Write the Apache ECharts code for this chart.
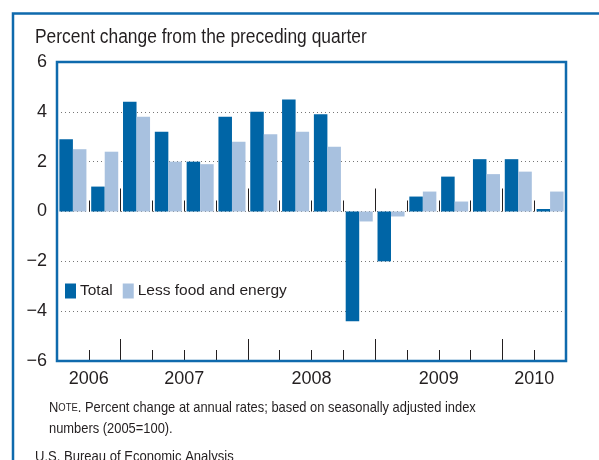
<!DOCTYPE html>
<html>
<head>
<meta charset="utf-8">
<script src="https://cdn.jsdelivr.net/npm/echarts@6/dist/echarts.min.js"></script>
<style>
  html, body { margin: 0; padding: 0; background: #fff; }
  #chart { width: 599px; height: 460px; }
</style>
</head>
<body>
<div id="chart"></div>
<script>
// quarters, 2006 Q3 .. 2010 Q2
var quarters = ['2006Q3', '2006Q4',
	'2007Q1', '2007Q2', '2007Q3', '2007Q4',
	'2008Q1', '2008Q2', '2008Q3', '2008Q4',
	'2009Q1', '2009Q2', '2009Q3', '2009Q4',
	'2010Q1', '2010Q2'];
var total = [2.9, 1.0, 4.4, 3.2, 2.0, 3.8, 4.0, 4.5, 3.9, -4.4, -2.0, 0.6, 1.4, 2.1, 2.1, 0.1];
var lessFoodEnergy = [2.5, 2.4, 3.8, 2.0, 1.9, 2.8, 3.1, 3.2, 2.6, -0.4, -0.2, 0.8, 0.4, 1.5, 1.6, 0.8];

// year labels sit in the middle of their quarters (in quarter units)
var yearLabels = ['2006', '2007', '2008', '2009', '2010'];
var yearCenters = [1, 4, 8, 12, 15];
var yearBounds = [2, 6, 10, 14];
var quarterBounds = [1, 3, 4, 5, 7, 8, 9, 11, 12, 13, 15];

var yTicks = [-6, -4, -2, 0, 2, 4, 6];

var sans = '"Liberation Sans", Arial, sans-serif';
var frameBlue = '#0f6aad';
var darkBlue = '#0065a6';
var lightBlue = '#a8c1df';
var ink = '#231f20';

var chart = echarts.init(document.getElementById('chart'));

// decoration axes, only used for their tick marks
function tickAxis(values, len, onZero){
	return {
		type: 'value',
		min: 0,
		max: quarters.length,
		position: 'bottom',
		axisLine: {show: onZero, onZero: onZero, onZeroAxisIndex: 0, lineStyle: {color: 'rgba(0,0,0,0)'}},
		axisTick: {
			show: true,
			inside: true,
			length: len,
			customValues: values,
			lineStyle: {color: ink, width: 1}
		},
		axisLabel: {show: false},
		splitLine: {show: false}
	};
}

var yearAxis = tickAxis(quarterBounds, 11, false);
yearAxis.axisLabel = {
	show: true,
	customValues: yearCenters,
	formatter: function(v){
		var i = yearCenters.indexOf(v);
		return i >= 0 ? yearLabels[i] : '';
	},
	fontFamily: sans,
	fontSize: 18,
	color: ink,
	margin: 9
};

var option = {
	animation: false,
	grid: {
		left: 57,
		right: 33,
		top: 62,
		bottom: 99,
		show: true,
		borderColor: frameBlue,
		borderWidth: 2.5,
		z: 3
	},
	legend: {
		left: 60,
		top: 278,
		itemWidth: 11,
		itemHeight: 15,
		itemGap: 10,
		icon: 'rect',
		textStyle: {fontFamily: sans, fontSize: 15.5, color: ink, padding: [0, 0, 0, -1]},
		data: ['Total', 'Less food and energy']
	},
	xAxis: [
		{type: 'category', data: quarters, show: false, axisLine: {onZero: false}},
		yearAxis,
		tickAxis(yearBounds, 22, false),
		tickAxis(quarterBounds, 11, true),
		tickAxis(yearBounds, 23, true)
	],
	yAxis: {
		type: 'value',
		min: yTicks[0],
		max: yTicks[yTicks.length - 1],
		interval: 2,
		axisLine: {show: false},
		axisTick: {show: false},
		axisLabel: {
			fontFamily: sans,
			fontSize: 18,
			color: ink,
			margin: 10,
			formatter: function(v){ return String(v).replace('-', '\u2212'); }
		},
		splitLine: {lineStyle: {color: '#777', type: [1, 3], width: 1}}
	},
	series: [
		{
			name: 'Total',
			type: 'bar',
			xAxisIndex: 0,
			data: total,
			barGap: '0%',
			barCategoryGap: '15%',
			itemStyle: {color: darkBlue},
			z: 2
		},
		{
			name: 'Less food and energy',
			type: 'bar',
			xAxisIndex: 0,
			data: lessFoodEnergy,
			itemStyle: {color: lightBlue},
			z: 2
		}
	],
	graphic: [
		{
			type: 'rect',
			shape: {x: 13, y: 13.5, width: 800, height: 800},
			style: {fill: null, stroke: frameBlue, lineWidth: 2.5},
			silent: true
		},
		{
			type: 'text',
			x: 35,
			y: 27,
			scaleX: 0.87,
			style: {text: 'Percent change from the preceding quarter', font: '20px ' + sans, fill: ink}
		},
		{
			type: 'text',
			x: 49,
			y: 398,
			scaleX: 0.86,
			style: {
				text: '{n|N}{s|OTE}. Percent change at annual rates; based on seasonally adjusted index\nnumbers (2005=100).',
				font: '15px ' + sans,
				fill: ink,
				lineHeight: 20.5,
				rich: {
					n: {font: '15px ' + sans, fill: ink, lineHeight: 20.5},
					s: {font: '11px ' + sans, fill: ink, lineHeight: 20.5}
				}
			}
		},
		{
			type: 'text',
			x: 35,
			y: 449,
			scaleX: 0.87,
			style: {text: 'U.S. Bureau of Economic Analysis', font: '15px ' + sans, fill: ink}
		}
	]
};

chart.setOption(option);
</script>
</body>
</html>
